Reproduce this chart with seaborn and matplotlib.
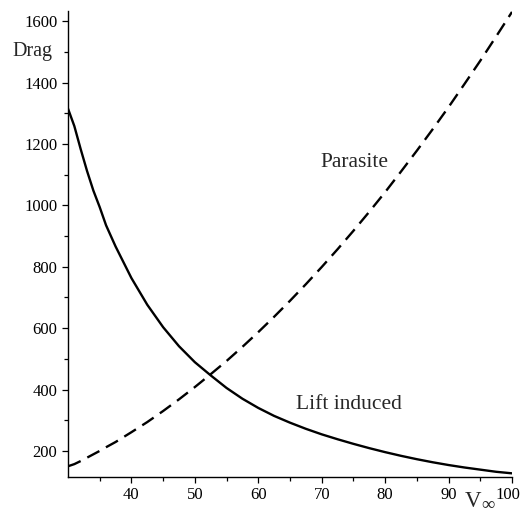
import matplotlib
matplotlib.use("Agg")
import matplotlib.pyplot as plt
import matplotlib.transforms as mtransforms
from matplotlib.ticker import FixedLocator
import seaborn as sns
import pandas as pd

# ---- data ----
speed = [30, 31, 32, 33, 34, 35, 36, 37.5, 40, 42.5, 45, 47.5, 50, 52.5, 55, 57.5, 60, 62.5, 65,
         67.5, 70, 72.5, 75, 77.5, 80, 82.5, 85, 87.5, 90, 92.5, 95, 97.5, 100]
lift_induced = [1315, 1258, 1183, 1112, 1048, 994, 935, 866, 763, 676, 603, 541, 489, 446, 405,
                370, 340, 314, 292, 272, 254, 238, 223, 209, 196, 184, 173, 163, 154, 146, 139,
                132, 127]
parasite = [150, 157, 167, 178, 189, 200, 212, 229, 261, 294, 330, 368, 408, 450, 493, 539, 587,
            637, 689, 743, 799, 857, 917, 979, 1043, 1110, 1178, 1248, 1320, 1395, 1471, 1550,
            1630]
x_ticks = [40, 50, 60, 70, 80, 90, 100]
y_ticks = [200, 400, 600, 800, 1000, 1200, 1400, 1600]

df = pd.DataFrame({"V": speed, "Lift": lift_induced, "Parasite": parasite})

sns.set_style("ticks")
plt.rcParams["font.family"] = ["Liberation Serif", "DejaVu Serif"]

W, H = 522, 515
fig = plt.figure(figsize=(W / 100, H / 100), dpi=100)
ax = fig.add_axes([68 / W, 1 - 476.7 / H, (512 - 68) / W, (476.7 - 11) / H])

sns.lineplot(data=df, x="V", y="Lift", ax=ax, color="black", lw=1.7)
sns.lineplot(data=df, x="V", y="Parasite", ax=ax, color="black", lw=1.7,
             linestyle=(0, (5.8, 3.2)))

ax.set_xlim(30, 100)
ax.set_ylim(116, 1633)
ax.set_xlabel("")
ax.set_ylabel("")
for s in ["top", "right"]:
    ax.spines[s].set_visible(False)
for s in ["left", "bottom"]:
    ax.spines[s].set_linewidth(1.0)
    ax.spines[s].set_color("black")

ax.xaxis.set_major_locator(FixedLocator(x_ticks))
ax.yaxis.set_major_locator(FixedLocator(y_ticks))
ax.xaxis.set_minor_locator(FixedLocator([35, 45, 55, 65, 75, 85, 95]))
ax.yaxis.set_minor_locator(FixedLocator([300, 500, 700, 900, 1100, 1300, 1500]))
ax.set_xticklabels([str(v) for v in x_ticks])
ax.set_yticklabels([str(v) for v in y_ticks])
ax.tick_params(axis="both", which="major", length=4.3, width=0.9, color="black",
               labelsize=12, pad=3.4, labelcolor="black")
ax.tick_params(axis="both", which="minor", length=3, width=0.9, color="black")

# keep the last x label ("100") inside the figure edge
last = ax.get_xticklabels()[-1]
last.set_transform(last.get_transform() +
                   mtransforms.ScaledTranslation(-4 / 100, 0, fig.dpi_scale_trans))

fig.text(12.7 / W, 1 - 56 / H, "Drag", fontsize=14.5, va="baseline", ha="left")
fig.text(320 / W, 1 - 166.7 / H, "Parasite", fontsize=15.5, va="baseline", ha="left")
fig.text(296 / W, 1 - 409.3 / H, "Lift induced", fontsize=15.5, va="baseline", ha="left")
fig.text(465 / W, 1 - 507 / H, "V", fontsize=16.5, va="baseline", ha="left")
fig.text(481 / W, 1 - 510.5 / H, "\u221e", fontsize=13.5, va="baseline", ha="left")

fig.savefig("out.png", dpi=100, facecolor="white")
